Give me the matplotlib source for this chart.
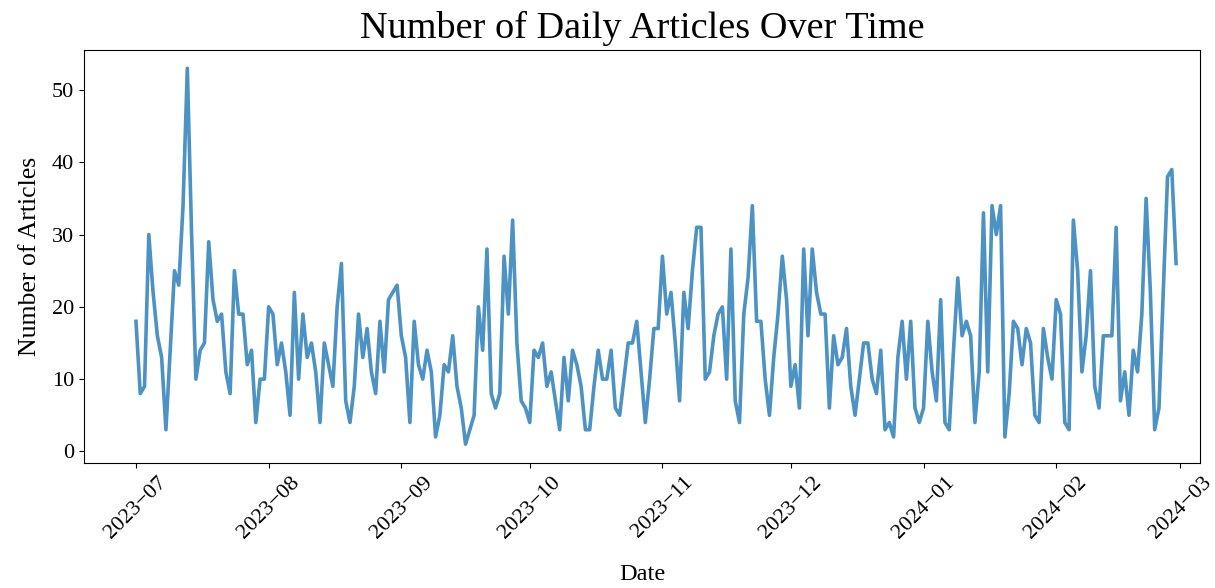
import matplotlib
matplotlib.use("Agg")
import matplotlib.pyplot as plt
import matplotlib.dates as mdates
import pandas as pd

start_date = "2023-07-01"
end_date = "2024-02-29"

daily_counts = [
    18, 8, 9, 30, 22, 16, 13, 3, 14, 25, 23, 34, 53, 30, 10, 14, 15, 29, 21, 18,
    19, 11, 8, 25, 19, 19, 12, 14, 4, 10, 10,
    20, 19, 12, 15, 11, 5, 22, 10, 19, 13, 15, 11, 4, 15, 12, 9, 20, 26, 7, 4,
    9, 19, 13, 17, 11, 8, 18, 11, 21, 22, 23,
    16, 13, 4, 18, 12, 10, 14, 11, 2, 5, 12, 11, 16, 9, 6, 1, 3, 5, 20, 14,
    28, 8, 6, 8, 27, 19, 32, 15, 7, 6,
    4, 14, 13, 15, 9, 11, 7, 3, 13, 7, 14, 12, 9, 3, 3, 9, 14, 10, 10, 14,
    6, 5, 10, 15, 15, 18, 11, 4, 10, 17, 17,
    27, 19, 22, 15, 7, 22, 17, 25, 31, 31, 10, 11, 16, 19, 20, 10, 28, 7, 4, 19,
    24, 34, 18, 18, 10, 5, 13, 19, 27, 21,
    9, 12, 6, 28, 16, 28, 22, 19, 19, 6, 16, 12, 13, 17, 9, 5, 10, 15, 15, 10,
    8, 14, 3, 4, 2, 13, 18, 10, 18, 6, 4,
    6, 18, 11, 7, 21, 4, 3, 14, 24, 16, 18, 16, 4, 11, 33, 11, 34, 30, 34, 2,
    8, 18, 17, 12, 17, 15, 5, 4, 17, 13, 10,
    21, 19, 4, 3, 32, 25, 11, 16, 25, 9, 6, 16, 16, 16, 31, 7, 11, 5, 14, 11,
    19, 35, 22, 3, 6, 22, 38, 39, 26,
]

dates = pd.date_range(start_date, end_date, freq="D")

title_text = "Number of Daily Articles Over Time"
xlabel_text = "Date"
ylabel_text = "Number of Articles"

plt.rcParams["font.family"] = ["Liberation Serif", "DejaVu Serif"]

fig = plt.figure(figsize=(12.15, 5.88), dpi=100)
ax = fig.add_axes([0.0691, 0.2126, 0.9186, 0.7032])

ax.plot(dates, daily_counts, color="tab:blue", alpha=0.8, linewidth=2.6)

ax.xaxis.set_major_locator(mdates.MonthLocator())
ax.xaxis.set_major_formatter(mdates.DateFormatter("%Y\u2212%m"))
ax.set_yticks([0, 10, 20, 30, 40, 50])
ax.set_xlim(dates[0] - pd.Timedelta(days=12.15), dates[0] + pd.Timedelta(days=248.6))
ax.set_ylim(-1.6, 55.6)

for lab in ax.get_xticklabels():
    lab.set_rotation(45)
    lab.set_ha("center")
ax.tick_params(axis="both", labelsize=16)

ax.set_title(title_text, fontsize=27.5, pad=8)
ax.set_ylabel(ylabel_text, fontsize=18.5, labelpad=8)
ax.set_xlabel(xlabel_text, fontsize=17.5, va="top")
ax.xaxis.set_label_coords(0.5, -0.245)

fig.savefig("out.png", dpi=100)
